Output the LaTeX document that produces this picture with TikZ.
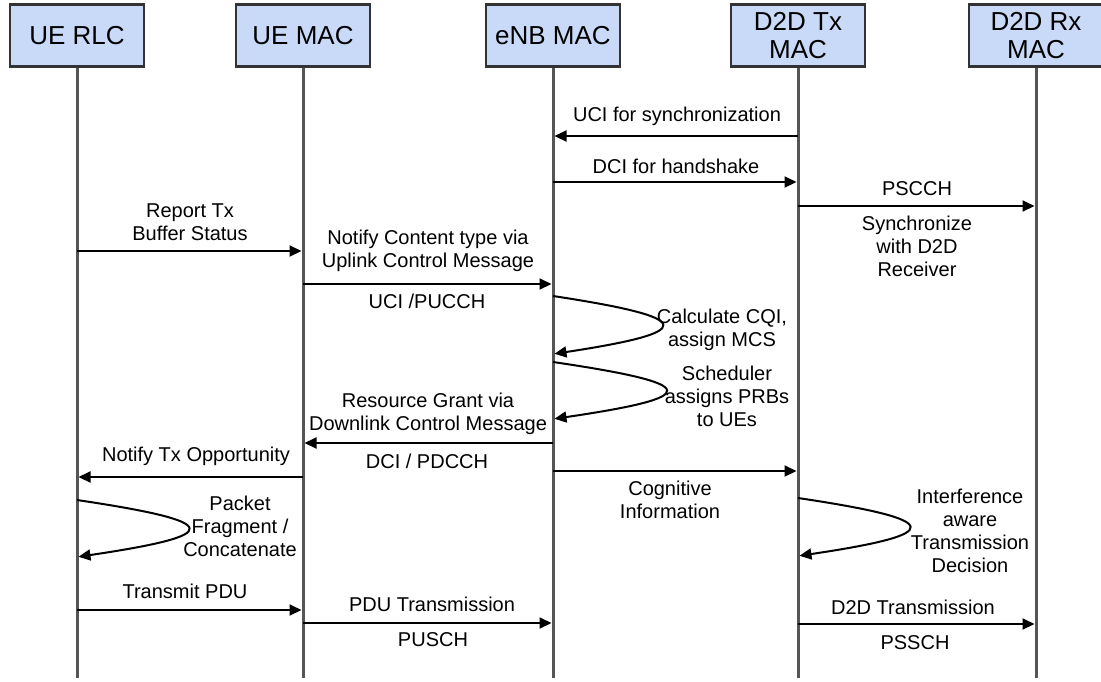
\documentclass[tikz,border=0pt]{standalone}
\usepackage{fontspec}
\setmainfont{Liberation Sans}
\usetikzlibrary{arrows.meta}
\definecolor{hdrfill}{HTML}{C9DAF8}
\definecolor{hdrline}{HTML}{333333}
\definecolor{lifeln}{HTML}{555555}

\begin{document}
\begin{tikzpicture}[x=1pt,y=-1pt,
  header/.style={draw=hdrline, line width=2.5pt, fill=hdrfill,
    minimum width=134pt, minimum height=62pt, inner sep=0pt,
    align=center, font=\fontsize{26}{28}\selectfont},
  lifeline/.style={draw=lifeln, line width=3pt},
  msg/.style={draw=black, line width=2pt,
    -{Triangle[length=12pt,width=11pt]}, shorten >=1.5pt},
  lbl/.style={font=\fontsize{20}{23}\selectfont, align=center, inner sep=0pt},
]
\useasboundingbox (0,0) rectangle (1101,681);

% participants
\node[header] (rlc) at (77,35.5)   {UE RLC};
\node[header] (uemac) at (303,35.5) {UE MAC};
\node[header] (enb) at (553,35.5)  {eNB MAC};
\node[header] (tx) at (798,35.5)   {D2D Tx\\MAC};
\node[header] (rx) at (1036,35.5)  {D2D Rx\\MAC};

% lifelines
\coordinate (bottom) at (0,678);
\foreach \p in {rlc,uemac,enb,tx,rx}
  \draw[lifeline] (\p.south) -- (\p.south |- bottom);

% message levels
\coordinate (y1) at (0,136);
\coordinate (y2) at (0,182);
\coordinate (y3) at (0,206);
\coordinate (y4) at (0,251);
\coordinate (y5) at (0,284);
\coordinate (y6) at (0,443);
\coordinate (y7) at (0,477);
\coordinate (y8) at (0,471);
\coordinate (y9) at (0,610);
\coordinate (y10) at (0,623);
\coordinate (y11) at (0,624);

% messages
\draw[msg] (tx |- y1) -- (enb |- y1);
\draw[msg] (enb |- y2) -- (tx |- y2);
\draw[msg] (tx |- y3) -- (rx |- y3);
\draw[msg] (rlc |- y4) -- (uemac |- y4);
\draw[msg] (uemac |- y5) -- (enb |- y5);
\draw[msg] (enb |- y6) -- (uemac |- y6);
\draw[msg] (uemac |- y7) -- (rlc |- y7);
\draw[msg] (enb |- y8) -- (tx |- y8);
\draw[msg] (rlc |- y9) -- (uemac |- y9);
\draw[msg] (uemac |- y10) -- (enb |- y10);
\draw[msg] (tx |- y11) -- (rx |- y11);

% self messages: one cubic each, tapering to a tip on the right
\coordinate (s1a) at (0,296); \coordinate (s1b) at (0,354);
\coordinate (s2a) at (0,362); \coordinate (s2b) at (0,419);
\coordinate (s3a) at (0,500); \coordinate (s3b) at (0,557);
\coordinate (s4a) at (0,498); \coordinate (s4b) at (0,556);
\draw[msg] (enb |- s1a) .. controls +(145,22) and +(145,-22) .. (enb |- s1b);
\draw[msg] (enb |- s2a) .. controls +(150,22) and +(150,-22) .. (enb |- s2b);
\draw[msg] (rlc |- s3a) .. controls +(148,22) and +(148,-22) .. (rlc |- s3b);
\draw[msg] (tx |- s4a) .. controls +(148,22) and +(148,-22) .. (tx |- s4b);

% labels
\node[lbl] (t1) at (677,116) {UCI for synchronization};
\node[lbl] (t2) at (676,166) {DCI for handshake};
\node[lbl] (t3) at (917,189) {PSCCH};
\node[lbl] (t3b) at (917,246) {Synchronize\\with D2D\\Receiver};
\node[lbl] (t4) at (190,222) {Report Tx\\Buffer Status};
\node[lbl] (t5) at (428,251) {Notify Content type via\\Uplink Control Message};
\node[lbl] (t5b) at (427,301) {UCI /PUCCH};
\node[lbl] (t6) at (722,330) {Calculate CQI,\\assign MCS};
\node[lbl] (t7) at (727,396) {Scheduler\\assigns PRBs\\to UEs};
\node[lbl] (t8) at (428,414) {Resource Grant via\\Downlink Control Message};
\node[lbl] (t8b) at (427,461) {DCI / PDCCH};
\node[lbl] (t9) at (196,456) {Notify Tx Opportunity};
\node[lbl] (t10) at (670,500) {Cognitive\\Information};
\node[lbl] (t11) at (240,526) {Packet\\Fragment /\\Concatenate};
\node[lbl] (t12) at (970,531) {Interference\\aware\\Transmission\\Decision};
\node[lbl] (t13) at (185,591) {Transmit PDU};
\node[lbl] (t14) at (432,604) {PDU Transmission};
\node[lbl] (t14b) at (433,640) {PUSCH};
\node[lbl] (t15) at (913,607) {D2D Transmission};
\node[lbl] (t15b) at (915,643) {PSSCH};
\end{tikzpicture}
\end{document}
